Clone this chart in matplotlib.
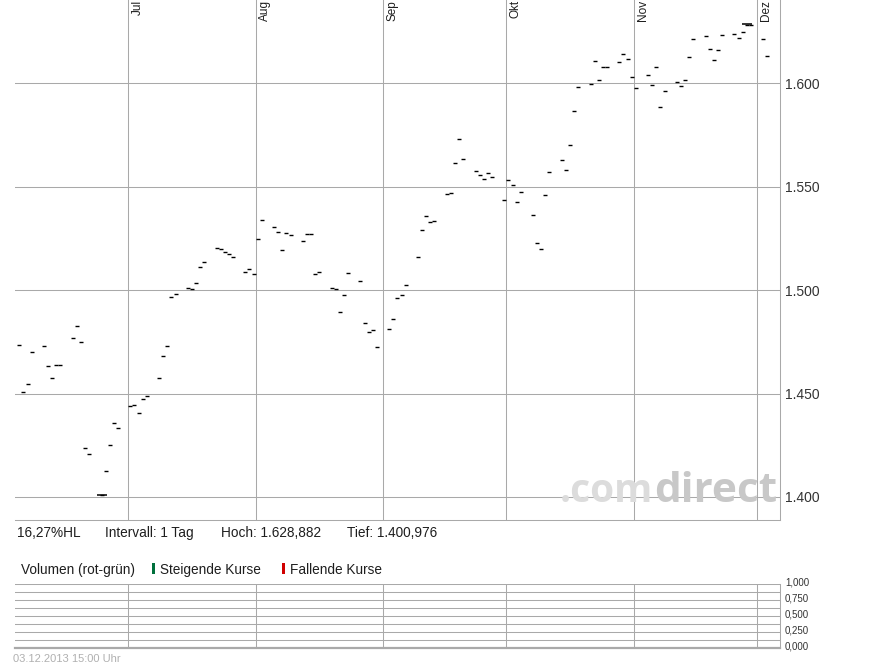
import numpy as np
import pandas as pd
import matplotlib
matplotlib.use('Agg')
import matplotlib.pyplot as plt
import matplotlib.ticker as mticker
import matplotlib.transforms as mtransforms
from matplotlib.patches import Rectangle

plt.rcParams['font.family'] = ['Liberation Sans', 'DejaVu Sans']

# daily closes, trading days 04.06.2013 - 03.12.2013
days = pd.bdate_range('2013-06-04', '2013-12-03')
closes = [
    # Jun
    1473.3, 1450.6, 1454.4, 1469.9,
    1472.8, 1463.2, 1457.4, 1463.6, 1463.6,
    1476.7, 1482.5, 1474.8, 1423.5, 1420.6,
    1401.0, 1412.4, 1425.0, 1435.6, 1433.2,
    # Jul
    1443.8, 1444.3, 1440.4, 1447.5, 1448.6,
    1457.4, 1468.0, 1472.8, 1496.5, 1498.0,
    1500.9, 1500.4, 1503.3, 1511.0, 1513.4,
    1520.2, 1519.7, 1518.3, 1517.3, 1515.9,
    1508.6, 1510.1, 1507.6,
    # Aug
    1524.7, 1533.8,
    1530.4, 1528.0, 1519.2, 1527.5, 1526.5,
    1523.6, 1527.0, 1527.0, 1507.6, 1508.6,
    1500.9, 1500.4, 1489.3, 1497.5, 1508.1,
    1504.3, 1484.1, 1479.6, 1480.6, 1472.3,
    # Sep
    1481.2, 1486.0, 1496.0, 1497.5, 1502.3,
    1515.9, 1528.9, 1535.8, 1532.8, 1533.3,
    1546.3, 1546.8, 1561.3, 1572.9, 1563.2,
    1557.4, 1555.5, 1553.6, 1556.5, 1554.5,
    1543.4,
    # Okt
    1553.1, 1550.7, 1542.5, 1547.3,
    1536.2, 1522.6, 1519.7, 1545.8, 1557.0,
    1562.8, 1557.9, 1570.0, 1586.5, 1598.1,
    1599.5, 1610.6, 1601.5, 1607.7, 1607.7,
    1610.2, 1614.0, 1611.6, 1602.9,
    # Nov
    1597.6,
    1603.9, 1599.0, 1607.7, 1588.4, 1596.1,
    1600.5, 1598.5, 1601.5, 1612.6, 1621.3,
    1622.7, 1616.4, 1611.1, 1616.0, 1623.2,
    1623.7, 1621.8, 1624.7, 1628.4, 1628.2,
    # Dez
    1621.3, 1613.1,
]
high_val, high_day = 1628.882, '2013-11-28'
low_val, low_day = 1400.976, '2013-06-24'

months = ['Jul', 'Aug', 'Sep', 'Okt', 'Nov', 'Dez']
month_starts = pd.date_range('2013-07-01', '2013-12-01', freq='MS')
price_ticks = [1400, 1450, 1500, 1550, 1600]
vol_ticks = [0, 0.25, 0.5, 0.75, 1.0]
stamp = '03.12.2013 15:00 Uhr'


def de(v, d):
    s = f"{v:,.{d}f}"
    return s.replace(',', 'X').replace('.', ',').replace('X', '.')


W, H = 895, 669
grid_c = '#a9a9a9'
txt_c = '#1e1e1e'
x0 = pd.Timestamp('2013-06-03 10:30')
x1 = pd.Timestamp('2013-12-06 14:15')
half = pd.Timedelta(hours=12)

fig = plt.figure(figsize=(W / 100, H / 100), dpi=100)
ax = fig.add_axes([15 / W, 1 - 520 / H, 765 / W, 520 / H])
axv = fig.add_axes([15 / W, 1 - 648.3 / H, 765 / W, 64.3 / H])

# price panel
ax.plot(days + half, closes, ls='none', marker='_', ms=3.2, mew=1.0, color='k', zorder=3)
for val, day in [(high_val, high_day), (low_val, low_day)]:
    d = pd.Timestamp(day) + half
    ax.hlines(val, d - pd.Timedelta(hours=29), d + pd.Timedelta(hours=29), color='k', lw=1.1, zorder=3)

ax.set_xlim(x0, x1)
ax.set_ylim(1600 - (520 - 83.3) / 2.068, 1600 + 83.3 / 2.068)
ax.yaxis.tick_right()
ax.set_yticks(price_ticks)
ax.set_yticklabels([de(v, 0) for v in price_ticks])
ax.tick_params(axis='y', length=0, pad=3.6, labelsize=10, labelcolor='#333333')
ax.set_xticks(month_starts)
ax.tick_params(axis='x', length=0, labelbottom=False)
ax.grid(color=grid_c, lw=0.75)
ax.set_axisbelow(True)
for s in ['top', 'left']:
    ax.spines[s].set_visible(False)
for s in ['right', 'bottom']:
    ax.spines[s].set_color(grid_c)
    ax.spines[s].set_linewidth(0.75)

for name, m in zip(months, month_starts):
    ax.annotate(name, xy=(m, 1), xycoords=('data', 'axes fraction'), xytext=(2.4, 0),
                textcoords='offset points', rotation=90, ha='left', va='top',
                fontsize=8.5, color=txt_c)

# volume panel (empty)
axv.set_xlim(x0, x1)
axv.set_ylim(0, 1)
axv.yaxis.tick_right()
axv.set_yticks(vol_ticks)
axv.set_yticklabels([de(v, 3) for v in vol_ticks])
axv.yaxis.set_minor_locator(mticker.MultipleLocator(0.125))
axv.tick_params(axis='y', which='both', length=0, pad=3.6, labelsize=7, labelcolor='#333333')
shift = mtransforms.ScaledTranslation(0, 2.5 / 100, fig.dpi_scale_trans)
for lab in axv.get_yticklabels():
    lab.set_transform(lab.get_transform() + shift)
axv.set_xticks(month_starts)
axv.tick_params(axis='x', length=0, labelbottom=False)
axv.grid(which='both', color=grid_c, lw=0.75)
for s in ['top', 'left']:
    axv.spines[s].set_visible(False)
axv.spines['right'].set_color(grid_c)
axv.spines['right'].set_linewidth(0.75)
axv.spines['bottom'].set_color(grid_c)
axv.spines['bottom'].set_linewidth(1.6)

# info row
hl = (high_val / low_val - 1) * 100
row1 = 1 - 537.3 / H
fig.text(17 / W, row1, de(hl, 2) + '%HL', fontsize=9.8, color=txt_c, va='baseline')
fig.text(105 / W, row1, 'Intervall: 1 Tag', fontsize=9.8, color=txt_c, va='baseline')
fig.text(221 / W, row1, 'Hoch: ' + de(high_val, 3), fontsize=9.8, color=txt_c, va='baseline')
fig.text(347 / W, row1, 'Tief: ' + de(low_val, 3), fontsize=9.8, color=txt_c, va='baseline')

# legend row
row2 = 1 - 574 / H
fig.text(21.3 / W, row2, 'Volumen (rot-grün)', fontsize=9.8, color=txt_c, va='baseline')
fig.add_artist(Rectangle((151.7 / W, row2), 3.3 / W, 11 / H, transform=fig.transFigure,
                         color='#00703c', lw=0))
fig.text(160 / W, row2, 'Steigende Kurse', fontsize=9.8, color=txt_c, va='baseline')
fig.add_artist(Rectangle((282 / W, row2), 3.3 / W, 11 / H, transform=fig.transFigure,
                         color='#d00000', lw=0))
fig.text(290 / W, row2, 'Fallende Kurse', fontsize=9.8, color=txt_c, va='baseline')

fig.text(12.7 / W, 1 - 661.5 / H, stamp, fontsize=8, color='#b0b0b0', va='baseline')

# watermark
wm_y = 1 - 502 / H
fig.text(653 / W, wm_y, '.com', ha='right', va='baseline', fontsize=28,
         fontweight='bold', family='Open Sans', color='#dcdcdc')
fig.text(654 / W, wm_y, 'direct', ha='left', va='baseline', fontsize=30.5,
         fontweight='bold', family='Open Sans', color='#c8c8c8')

fig.savefig('out.png', dpi=100)
